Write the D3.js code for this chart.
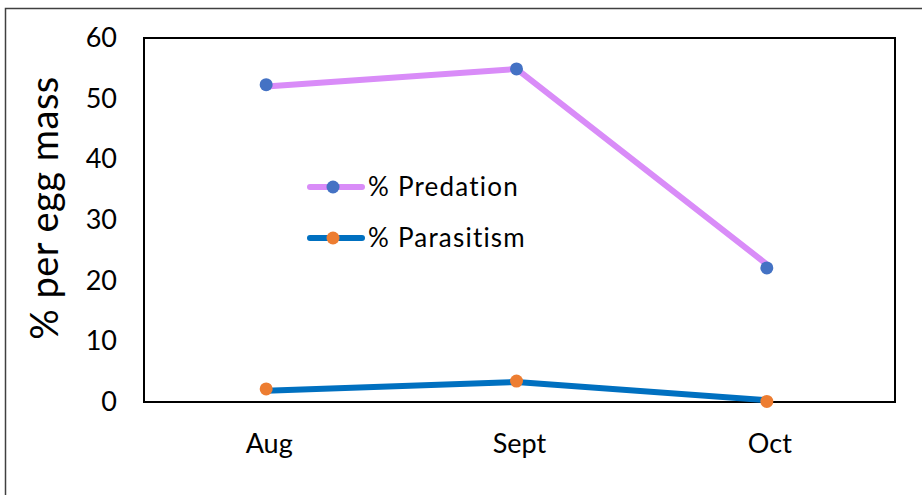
<!DOCTYPE html>
<html>
<head>
<meta charset="utf-8">
<script src="https://cdn.jsdelivr.net/npm/d3@7"></script>
<style>
  html, body { margin: 0; padding: 0; background: #fff; }
  svg { display: block; }
  text { font-family: Lato, "Open Sans", sans-serif; fill: #000; }
</style>
</head>
<body>
<div id="chart"></div>
<script>
const categories = ["Aug", "Sept", "Oct"];
const predationLine = [52.0, 54.9, 22.7];
const predationMarkers = [52.3, 54.9, 22.1];
const parasitismLine = [1.85, 3.3, 0.3];
const parasitismMarkers = [2.15, 3.45, 0.1];
const yTicks = [0, 10, 20, 30, 40, 50, 60];
const seriesNames = ["% Predation", "% Parasitism"];

const W = 922, H = 495;
const margin = { left: 144, top: 38, right: 922 - 895, bottom: 495 - 402 };

const svg = d3.select("#chart").append("svg").attr("width", W).attr("height", H);

// outer chart border
svg.append("rect").attr("x", 5.5).attr("y", 8.5).attr("width", 1000).attr("height", 1000)
  .attr("fill", "none").attr("stroke", "#404040").attr("stroke-width", 1.5);

const x = d3.scaleBand().domain(categories).range([margin.left, W - margin.right]);
const y = d3.scaleLinear().domain([0, 60]).range([H - margin.bottom, margin.top]);

// plot area border
svg.append("rect")
  .attr("x", margin.left).attr("y", margin.top)
  .attr("width", W - margin.left - margin.right)
  .attr("height", H - margin.top - margin.bottom)
  .attr("fill", "none").attr("stroke", "#000").attr("stroke-width", 2);

// y axis
const yAxis = svg.append("g").attr("transform", `translate(${margin.left},0)`)
  .call(d3.axisLeft(y).tickValues(yTicks).tickSize(0).tickPadding(27));
yAxis.select(".domain").remove();
yAxis.selectAll("text").style("font-size", "27px").attr("font-family", null);

// x axis
const xAxis = svg.append("g").attr("transform", `translate(0,${H - margin.bottom})`)
  .call(d3.axisBottom(x).tickSize(0).tickPadding(32));
xAxis.select(".domain").remove();
xAxis.selectAll("text").style("font-size", "27px").attr("font-family", null);

// y title
svg.append("text")
  .attr("transform", `translate(58,${208}) rotate(-90)`)
  .attr("text-anchor", "middle")
  .style("font-size", "38px")
  .style("letter-spacing", "0.5px")
  .text("% per egg mass");

const cx = d => x(d) + x.bandwidth() / 2 - 3;
const line = d3.line().x((d, i) => cx(categories[i])).y(d => y(d));

svg.append("path").datum(predationLine).attr("d", line)
  .attr("fill", "none").attr("stroke", "#D98CF8").attr("stroke-width", 6).attr("stroke-linejoin", "round");
svg.append("path").datum(parasitismLine).attr("d", line)
  .attr("fill", "none").attr("stroke", "#0070C0").attr("stroke-width", 6).attr("stroke-linejoin", "round");

svg.selectAll(".mp").data(predationMarkers).enter().append("circle")
  .attr("cx", (d, i) => cx(categories[i])).attr("cy", d => y(d)).attr("r", 6.5).attr("fill", "#4472C4");
svg.selectAll(".mq").data(parasitismMarkers).enter().append("circle")
  .attr("cx", (d, i) => cx(categories[i])).attr("cy", d => y(d)).attr("r", 6.5).attr("fill", "#ED7D31");

// legend
const legend = [
  { name: seriesNames[0], line: "#D98CF8", marker: "#4472C4", y: 187 },
  { name: seriesNames[1], line: "#0070C0", marker: "#ED7D31", y: 238 }
];
legend.forEach(l => {
  svg.append("line").attr("x1", 310).attr("x2", 362).attr("y1", l.y).attr("y2", l.y)
    .attr("stroke", l.line).attr("stroke-width", 6).attr("stroke-linecap", "round");
  svg.append("circle").attr("cx", 333).attr("cy", l.y).attr("r", 6.5).attr("fill", l.marker);
  svg.append("text").attr("x", 368).attr("y", l.y).attr("dy", "0.35em")
    .style("font-size", "26px").style("letter-spacing", "1.2px").text(l.name);
});
</script>
</body>
</html>
